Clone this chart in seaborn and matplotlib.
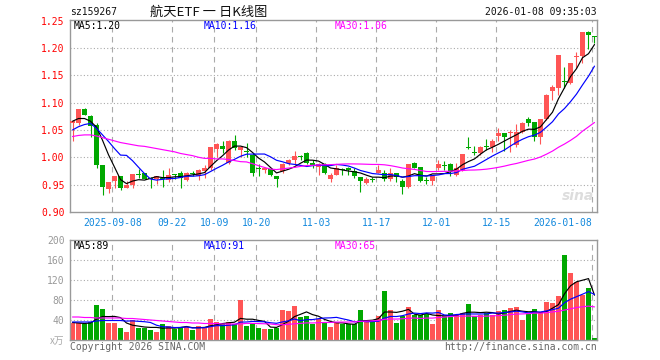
import numpy as np
import pandas as pd
import seaborn as sns
import matplotlib.pyplot as plt

# ---- data ----
START, END = "2025-08-28", "2026-01-08"
HOLIDAYS = ["2025-10-01", "2025-10-02", "2025-10-03", "2025-10-06", "2025-10-07",
            "2025-10-08", "2026-01-01", "2026-01-02"]

open_ = [1.063, 1.062, 1.088, 1.076, 1.060, 0.986, 0.942, 0.957, 0.965, 0.944,
         0.949, 0.970, 0.971, 0.962, 0.960, 0.962, 0.958, 0.969, 0.971, 0.958,
         0.970, 0.966, 0.974, 0.980, 1.015, 1.021, 0.989, 1.029, 1.013, 1.011,
         1.004, 0.979, 0.977, 0.978, 0.966, 0.975, 0.989, 0.995, 1.002, 1.0085,
         0.989, 0.983, 0.987, 0.960, 0.968, 0.978, 0.981, 0.974, 0.963, 0.952,
         0.959, 0.972, 0.971, 0.960, 0.971, 0.957, 0.945, 0.989, 0.982, 0.957,
         0.957, 0.981, 0.985, 0.988, 0.968, 0.976, 1.019, 1.010, 1.007, 1.020,
         1.0195, 1.039, 1.044, 1.044, 1.0225, 1.047, 1.071, 1.064, 1.038, 1.070,
         1.1215, 1.126, 1.139, 1.1355, 1.184, 1.186, 1.2295, 1.222]
close = [1.066, 1.088, 1.078, 1.058, 0.986, 0.946, 0.955, 0.965, 0.944, 0.949,
         0.969, 0.968, 0.961, 0.960, 0.965, 0.960, 0.968, 0.968, 0.962, 0.972,
         0.969, 0.977, 0.980, 1.018, 1.024, 1.015, 1.029, 1.0165, 1.018, 1.010,
         0.971, 0.978, 0.980, 0.968, 0.960, 0.987, 0.995, 1.0025, 1.001, 0.989,
         0.986, 0.987, 0.972, 0.968, 0.981, 0.976, 0.977, 0.965, 0.957, 0.961,
         0.958, 0.977, 0.960, 0.972, 0.963, 0.946, 0.988, 0.981, 0.957, 0.956,
         0.966, 0.988, 0.984, 0.974, 0.980, 1.006, 1.017, 1.008, 1.018, 1.019,
         1.0305, 1.044, 1.038, 1.047, 1.047, 1.062, 1.0635, 1.0365, 1.070, 1.114,
         1.129, 1.187, 1.137, 1.172, 1.186, 1.2295, 1.224, 1.221]
high = [1.068, 1.089, 1.091, 1.077, 1.062, 0.986, 0.955, 0.965, 0.966, 0.957,
        0.969, 0.978, 0.972, 0.963, 0.966, 0.977, 0.981, 0.970, 0.974, 0.973,
        0.975, 0.979, 0.985, 1.0195, 1.027, 1.029, 1.031, 1.0415, 1.018, 1.027,
        1.007, 0.987, 0.981, 0.980, 0.966, 0.989, 0.996, 1.0115, 1.004, 1.010,
        0.995, 0.989, 0.989, 0.972, 0.986, 0.981, 0.983, 0.980, 0.963, 0.963,
        0.963, 0.986, 0.976, 0.980, 0.972, 0.960, 0.988, 0.992, 0.983, 0.963,
        0.968, 0.995, 0.993, 0.989, 0.990, 1.006, 1.038, 1.020, 1.020, 1.033,
        1.033, 1.053, 1.045, 1.050, 1.061, 1.065, 1.074, 1.065, 1.070, 1.116,
        1.132, 1.187, 1.165, 1.172, 1.1935, 1.2295, 1.231, 1.222]
low = [1.030, 1.060, 1.077, 1.037, 0.980, 0.931, 0.934, 0.944, 0.941, 0.943,
       0.943, 0.962, 0.960, 0.944, 0.951, 0.946, 0.955, 0.960, 0.944, 0.956,
       0.965, 0.958, 0.962, 0.977, 1.001, 1.007, 0.987, 1.013, 1.001, 1.001,
       0.965, 0.966, 0.972, 0.965, 0.946, 0.971, 0.986, 0.986, 0.995, 0.987,
       0.980, 0.968, 0.969, 0.955, 0.967, 0.968, 0.968, 0.962, 0.937, 0.951,
       0.955, 0.971, 0.957, 0.957, 0.955, 0.932, 0.943, 0.980, 0.955, 0.951,
       0.949, 0.977, 0.977, 0.965, 0.966, 0.974, 1.016, 1.004, 1.004, 1.013,
       1.010, 1.030, 1.012, 1.010, 1.0195, 1.044, 1.057, 1.029, 1.024, 1.068,
       1.105, 1.114, 1.126, 1.134, 1.163, 1.172, 1.198, 1.209]
volume = [35, 35, 32, 36, 70, 62, 34, 34, 24, 16,
          40, 25, 25, 20, 16, 32, 28, 23, 26, 26,
          20, 28, 26, 42, 36, 32, 36, 32, 80, 28,
          32, 24, 22, 23, 25, 60, 58, 68, 46, 49,
          33, 42, 36, 26, 35, 32, 32, 32, 60, 38,
          36, 48, 98, 60, 34, 48, 66, 50, 50, 52,
          32, 60, 48, 54, 50, 54, 72, 48, 50, 54,
          50, 58, 60, 64, 66, 40, 52, 62, 54, 76,
          74, 88, 170, 134, 116, 90, 104, 4]

# moving-average values at the left edge (they depend on days before the window)
ma5_head = [1.066, 1.071, 1.071, 1.066]
ma10_head = [1.050, 1.056, 1.060, 1.062, 1.053, 1.041, 1.029, 1.016, 1.004]
ma30_head = [1.038, 1.040, 1.041, 1.041, 1.039, 1.036, 1.033, 1.030, 1.027, 1.025,
             1.023, 1.021, 1.020, 1.018, 1.016, 1.014, 1.012, 1.010, 1.007, 1.005,
             1.003, 1.000, 0.998, 0.998, 0.997, 0.997, 0.996, 0.994, 0.992]
vma5_head = [35, 34, 33, 34]
vma10_head = [36, 36, 36, 36, 38, 39, 39, 39, 39]
vma30_head = [46, 46, 45, 45, 44, 44, 44, 44, 44, 43, 43, 42, 41, 40, 39, 38, 37, 36,
              35, 35, 34, 34, 33, 33, 33, 32, 32, 32, 32]

tick_dates = ["2025-09-08", "2025-09-22", "2025-10-09", "2025-10-20", "2025-11-03",
              "2025-11-17", "2025-12-01", "2025-12-15", "2026-01-08"]
tick_labels = ["2025-09-08", "09-22", "10-09", "10-20", "11-03", "11-17", "12-01",
               "12-15", "2026-01-08"]
price_ticks = [0.90, 0.95, 1.00, 1.05, 1.10, 1.15, 1.20, 1.25]
vol_ticks = [40, 80, 120, 160, 200]
price_ma_labels = ["MA5:1.20", "MA10:1.16", "MA30:1.06"]
vol_ma_labels = ["MA5:89", "MA10:91", "MA30:65"]

RED = "#ff5555"
GREEN = "#00a800"
GRID = "#aaaaaa"
CJK = ["Noto Sans CJK SC", "DejaVu Sans"]


def moving_average(values, window, head):
    ma = pd.Series(values, dtype=float).rolling(window).mean()
    ma.iloc[:len(head)] = head
    return ma


def px(x, y):
    """pixel position -> figure fraction"""
    return x / 660, 1 - y / 360


dates = pd.bdate_range(START, END)
dates = dates[~dates.isin(pd.to_datetime(HOLIDAYS))]
df = pd.DataFrame({"date": dates, "open": open_, "close": close,
                   "high": high, "low": low, "volume": volume})
df["idx"] = np.arange(len(df))
df["dir"] = np.where(df["close"] >= df["open"], "up", "down")
df["color"] = df["dir"].map({"up": RED, "down": GREEN})

sns.set_theme(style="white")
plt.rcParams["font.family"] = ["DejaVu Sans Mono"]

fig = plt.figure(figsize=(6.6, 3.6), dpi=100)
ax = fig.add_axes([70 / 660, 1 - 212 / 360, 527 / 660, 192 / 360])
axv = fig.add_axes([70 / 660, 1 - 340 / 360, 527 / 660, 100 / 360])

tick_pos = [df.index[df["date"] == pd.Timestamp(d)][0] - 0.35 for d in tick_dates]

for a in (ax, axv):
    for p in tick_pos:
        a.axvline(p, color=GRID, lw=0.8, ls=(0, (5, 4)), zorder=0)
    for s in a.spines.values():
        s.set_color("#999999")
        s.set_linewidth(1)
    a.set_xlim(-0.417, 87.417)

# candles
body_lo = np.minimum(df["open"], df["close"])
body_h = np.maximum((df["close"] - df["open"]).abs(), 0.0016)
ax.vlines(df["idx"], df["low"], df["high"], colors=df["color"], lw=0.8, zorder=2)
ax.bar(df["idx"], body_h, bottom=body_lo, width=0.8, color=df["color"],
       linewidth=0, zorder=3)

for win, head, col in [(5, ma5_head, "black"), (10, ma10_head, "#0000ff"),
                       (30, ma30_head, "#ff00ff")]:
    sns.lineplot(x=df["idx"], y=moving_average(df["close"], win, head), color=col,
                 lw=0.85, estimator=None, ax=ax, zorder=4)

for v in price_ticks[1:-1]:
    ax.axhline(v, color=GRID, lw=0.8, ls=(0, (1, 2)), zorder=0)
ax.set_ylim(0.8998, 1.2514)
ax.set_yticks(price_ticks, [f"{v:.2f}" for v in price_ticks])
ax.tick_params(axis="y", length=0, pad=4, labelsize=7, labelcolor="#ff0000")
ax.set_xticks(tick_pos, tick_labels)
ax.tick_params(axis="x", length=0, pad=4, labelsize=7, labelcolor="#1188dd")
ax.get_xticklabels()[-1].set_ha("right")
ax.set_xlabel("")
ax.set_ylabel("")

# volume
sns.barplot(data=df, x="idx", y="volume", hue="dir", palette={"up": RED, "down": GREEN},
            dodge=False, native_scale=True, width=0.8, saturation=1, errorbar=None,
            legend=False, linewidth=0, ax=axv, zorder=2)
for win, head, col in [(5, vma5_head, "black"), (10, vma10_head, "#0000ff"),
                       (30, vma30_head, "#ff00ff")]:
    sns.lineplot(x=df["idx"], y=moving_average(df["volume"], win, head), color=col,
                 lw=0.85, estimator=None, ax=axv, zorder=4)
for v in vol_ticks[:-1]:
    axv.axhline(v, color=GRID, lw=0.8, ls=(0, (1, 2)), zorder=0)
axv.set_xlim(-0.417, 87.417)
axv.set_ylim(0, 200)
axv.set_yticks(vol_ticks, [str(v) for v in vol_ticks])
axv.tick_params(axis="y", length=0, pad=4, labelsize=7, labelcolor="#999999")
axv.set_xticks([])
axv.set_xlabel("")
axv.set_ylabel("")

# texts
fig.text(*px(70, 12), "sz159267", ha="left", va="center", fontsize=7, color="#111111")
fig.text(*px(209, 12), "航天ETF 一 日K线图", ha="center", va="center", fontsize=9.5,
         family=CJK, color="#111111")
fig.text(*px(597, 12), "2026-01-08 09:35:03", ha="right", va="center", fontsize=7,
         color="#111111")
for (x, col), lp, lv in zip([(74, "black"), (204, "#0000ff"), (335, "#ff00ff")],
                            price_ma_labels, vol_ma_labels):
    fig.text(*px(x, 26), lp, ha="left", va="center", fontsize=7, color=col)
    fig.text(*px(x, 246), lv, ha="left", va="center", fontsize=7, color=col)
fig.text(*px(64, 341), "x万", ha="right", va="center", fontsize=7, family=CJK,
         color="#aaaaaa")
fig.text(*px(70, 347), "Copyright 2026 SINA.COM", ha="left", va="center", fontsize=7,
         color="#666666")
fig.text(*px(597, 347), "http://finance.sina.com.cn", ha="right", va="center",
         fontsize=7, color="#666666")
fig.text(*px(594, 196), "sina", ha="right", va="center", fontsize=10, style="italic",
         weight="bold", family="DejaVu Sans", color="#dddddd")

fig.savefig("out.png", dpi=100)
